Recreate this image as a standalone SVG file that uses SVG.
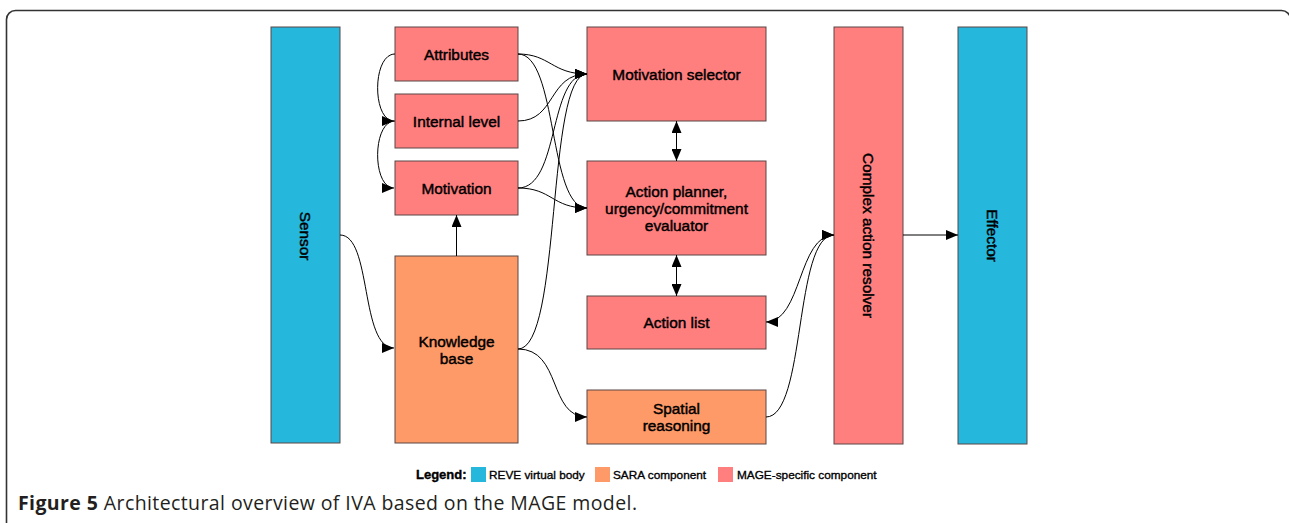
<svg xmlns="http://www.w3.org/2000/svg" width="1289" height="523" viewBox="0 0 1289 523">
<defs>
<style>
.box{stroke:#5a4646;stroke-width:1}
.blue{fill:#25b7dc}
.pink{fill:#ff7f7f}
.orange{fill:#fe9a68}
.lbl{font-family:"Liberation Sans",Arial,sans-serif;font-size:15.4px;fill:#000;stroke:#000;stroke-width:0.45;text-anchor:middle}
.leg{font-family:"Liberation Sans",Arial,sans-serif;font-size:11.8px;fill:#000;stroke:#000;stroke-width:0.35}
.edge{fill:none;stroke:#000;stroke-width:1}
</style>
<marker id="ah" markerUnits="userSpaceOnUse" markerWidth="12" markerHeight="10" viewBox="0 0 12 10" refX="12" refY="5" orient="auto-start-reverse">
<path d="M0,0 L12,5 L0,10 z" fill="#000"/>
</marker>
</defs>
<rect width="1289" height="523" fill="#fff"/>
<rect x="6.5" y="10.5" width="1284" height="540" rx="9" fill="none" stroke="#333" stroke-width="1.6"/>

<g id="sensor"><rect class="box blue" x="271" y="27" width="69" height="416"/>
<text class="lbl" transform="translate(305,236) rotate(90)" y="5.5">Sensor</text></g>
<g id="attributes"><rect class="box pink" x="395" y="27" width="123" height="54"/>
<text class="lbl" x="456.5" y="59.5">Attributes</text></g>
<g id="internal-level"><rect class="box pink" x="395" y="94" width="123" height="54"/>
<text class="lbl" x="456.5" y="126.5">Internal level</text></g>
<g id="motivation"><rect class="box pink" x="395" y="161" width="123" height="54"/>
<text class="lbl" x="456.5" y="193.5">Motivation</text></g>
<g id="knowledge-base"><rect class="box orange" x="395" y="256" width="123" height="187"/>
<text class="lbl" x="456.5" y="347">Knowledge</text><text class="lbl" x="456.5" y="364">base</text></g>
<g id="motivation-selector"><rect class="box pink" x="587" y="27" width="179" height="94"/>
<text class="lbl" x="676.5" y="80">Motivation selector</text></g>
<g id="action-planner"><rect class="box pink" x="587" y="161" width="179" height="94"/>
<text class="lbl" x="676.5" y="197">Action planner,</text><text class="lbl" x="676.5" y="214">urgency/commitment</text><text class="lbl" x="676.5" y="231">evaluator</text></g>
<g id="action-list"><rect class="box pink" x="587" y="296" width="179" height="53"/>
<text class="lbl" x="676.5" y="328">Action list</text></g>
<g id="spatial-reasoning"><rect class="box orange" x="587" y="390" width="179" height="54"/>
<text class="lbl" x="676.5" y="414">Spatial</text><text class="lbl" x="676.5" y="431">reasoning</text></g>
<g id="complex-action-resolver"><rect class="box pink" x="834" y="27" width="69" height="417"/>
<text class="lbl" transform="translate(868.5,235.5) rotate(90)" y="5.5">Complex action resolver</text></g>
<g id="effector"><rect class="box blue" x="958" y="27" width="69" height="417"/>
<text class="lbl" transform="translate(992.5,235.5) rotate(90)" y="5.5">Effector</text></g>

<g id="connectors">
<path class="edge" d="M340,235 C372,235 360,348 394,348" marker-end="url(#ah)"/>
<path class="edge" d="M456.5,256 L456.5,215" marker-end="url(#ah)"/>
<path class="edge" d="M395,54 C372,54 372,121 394,121" marker-end="url(#ah)"/>
<path class="edge" d="M395,121 C372,121 372,188 394,188" marker-end="url(#ah)"/>
<path class="edge" d="M518,54 C550,54 552,74 587,74" marker-end="url(#ah)"/>
<path class="edge" d="M518,54 C558,54 548,208 587,208" marker-end="url(#ah)"/>
<path class="edge" d="M518,121 C556,121 548,74 587,74" marker-end="url(#ah)"/>
<path class="edge" d="M518,188 C560,188 548,74 587,74" marker-end="url(#ah)"/>
<path class="edge" d="M518,188 C552,188 552,208 587,208" marker-end="url(#ah)"/>
<path class="edge" d="M518,349 C562,349 546,74 587,74" marker-end="url(#ah)"/>
<path class="edge" d="M518,349 C562,349 548,417 587,417" marker-end="url(#ah)"/>
<path class="edge" d="M676.5,121 L676.5,161" marker-start="url(#ah)" marker-end="url(#ah)"/>
<path class="edge" d="M676.5,255 L676.5,296" marker-start="url(#ah)" marker-end="url(#ah)"/>
<path class="edge" d="M766,322 C802,322 798,235 834,235" marker-start="url(#ah)" marker-end="url(#ah)"/>
<path class="edge" d="M766,417 C806,417 794,235 834,235" marker-end="url(#ah)"/>
<path class="edge" d="M903,235 L958,235" marker-end="url(#ah)"/>
</g>

<g id="legend">
<text class="leg" x="416" y="479" style="font-weight:bold;font-size:13px">Legend:</text>
<rect class="blue" x="471" y="467" width="15" height="15"/>
<text class="leg" x="489" y="479">REVE virtual body</text>
<rect class="orange" x="595" y="467" width="15" height="15"/>
<text class="leg" x="613" y="479">SARA component</text>
<rect class="pink" x="718" y="467" width="15" height="15"/>
<text class="leg" x="737" y="479">MAGE-specific component</text>
</g>

<text x="18" y="510" font-family="'Open Sans','Noto Sans',sans-serif" font-size="19.5" fill="#231f20" textLength="619" lengthAdjust="spacing"><tspan font-weight="bold">Figure 5</tspan> Architectural overview of IVA based on the MAGE model.</text>
</svg>
